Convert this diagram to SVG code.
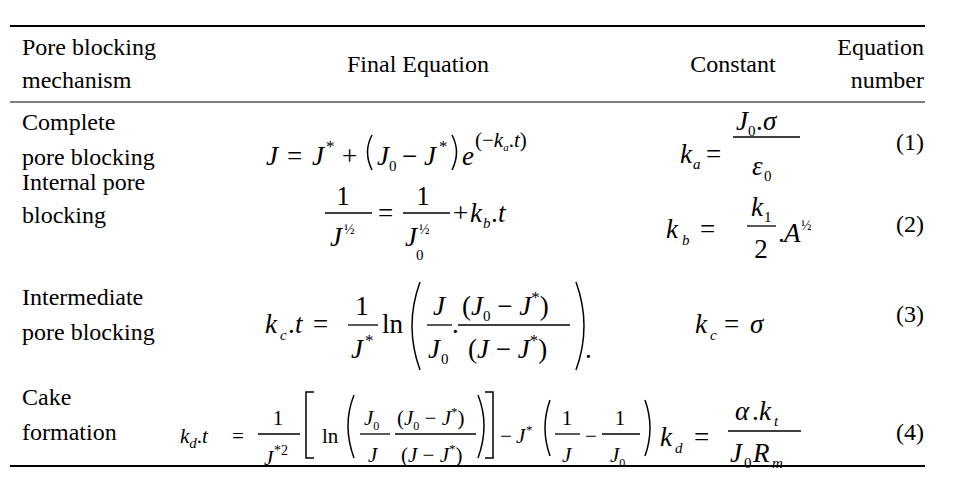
<svg xmlns="http://www.w3.org/2000/svg" width="953" height="495" viewBox="0 0 953 495">
<style>
text{font-family:"Liberation Serif","Times New Roman",serif;fill:#000}
.h{font-size:24px}
.m{font-size:27px;font-style:italic}
.s{font-size:21px;font-style:italic}
.u{font-style:normal}
.sb{font-size:15px}
.r{text-anchor:end}
.c{text-anchor:middle}
.fl{stroke:#000;stroke-width:1.3}
.br{fill:none;stroke:#000;stroke-width:1.5}
</style>
<rect width="953" height="495" fill="#fff"/>
<g id="rules">
<line x1="10" y1="26" x2="925" y2="26" stroke="#000" stroke-width="2"/>
<line x1="10" y1="102" x2="925" y2="102" stroke="#000" stroke-width="1"/>
<line x1="10" y1="466" x2="925" y2="466" stroke="#000" stroke-width="2"/>
</g>
<g id="header" font-family="'Liberation Serif', serif" style="font-family:'Liberation Serif',serif">
<text class="h u" x="22" y="55" style="font-family:'Liberation Serif',serif">Pore blocking</text>
<text class="h u" x="22" y="88" style="font-family:'Liberation Serif',serif">mechanism</text>
<text class="h u c" x="418" y="72" style="font-family:'Liberation Serif',serif">Final Equation</text>
<text class="h u c" x="733" y="72" style="font-family:'Liberation Serif',serif">Constant</text>
<text class="h u r" x="924" y="55" style="font-family:'Liberation Serif',serif">Equation</text>
<text class="h u r" x="924" y="88" style="font-family:'Liberation Serif',serif">number</text>
</g>
<g id="row1">
<text class="h u" x="22" y="130" style="font-family:'Liberation Serif',serif">Complete</text>
<text class="h u" x="22" y="165" style="font-family:'Liberation Serif',serif">pore blocking</text>
<text class="m" x="266" y="165">J</text>
<text class="m u" x="287" y="165">=</text>
<text class="m" x="312" y="165">J</text>
<text class="u" x="326" y="152" font-size="17">*</text>
<text class="m u" x="342" y="165">+</text>
<path class="br" d="M372 135 Q363 152 372 170"/>
<text class="m" x="377" y="165">J</text>
<text class="sb" x="389" y="171">0</text>
<text class="m u" x="402" y="165">−</text>
<text class="m" x="424" y="165">J</text>
<text class="u" x="439" y="152" font-size="17">*</text>
<path class="br" d="M452 135 Q461 152 452 170"/>
<text class="m" x="462" y="165">e</text>
<text class="s" x="475" y="147" font-size="17"><tspan class="u">(−</tspan>k<tspan font-size="11" dy="4">a</tspan><tspan dy="-4" class="u">.</tspan>t<tspan class="u">)</tspan></text>
<text class="m" x="680" y="163">k</text>
<text class="sb" x="693" y="169" font-style="italic">a</text>
<text class="m u" x="706" y="163">=</text>
<line class="fl" x1="733" y1="137" x2="800" y2="137"/>
<text class="m" x="736" y="130">J</text>
<text class="sb" x="748" y="136">0</text>
<text class="m u" x="756" y="130">.</text>
<text class="m" x="763" y="130">σ</text>
<text class="m" x="752" y="175">ε</text>
<text class="sb" x="764" y="181">0</text>
<text class="h u r" x="924" y="150" style="font-family:'Liberation Serif',serif">(1)</text>
</g>
<g id="row2">
<text class="h u" x="22" y="190" style="font-family:'Liberation Serif',serif">Internal pore</text>
<text class="h u" x="22" y="223" style="font-family:'Liberation Serif',serif">blocking</text>
<line class="fl" x1="325" y1="213" x2="372" y2="213"/>
<text class="m u c" x="343" y="205">1</text>
<text class="m" x="330" y="246">J</text>
<text class="u" x="344" y="234" font-size="14">½</text>
<text class="m u" x="378" y="222">=</text>
<line class="fl" x1="403" y1="213" x2="450" y2="213"/>
<text class="m u c" x="423" y="205">1</text>
<text class="m" x="405" y="246">J</text>
<text class="u" x="419" y="234" font-size="14">½</text>
<text class="sb" x="416" y="260">0</text>
<text class="m u" x="453" y="222">+</text>
<text class="m" x="470" y="222">k</text>
<text class="sb" x="483" y="228" font-style="italic">b</text>
<text class="m u" x="491" y="222">.</text>
<text class="m" x="498" y="222">t</text>
<text class="m" x="666" y="238" font-size="31">k</text>
<text class="sb" x="682" y="245" font-size="18" font-style="italic">b</text>
<text class="m u" x="700" y="238" font-size="31">=</text>
<line class="fl" x1="747" y1="226" x2="776" y2="226"/>
<text class="m" x="751" y="216">k</text>
<text class="sb" x="764" y="222">1</text>
<text class="m u c" x="761" y="258" font-size="31">2</text>
<text class="m u" x="778" y="242">.</text>
<text class="m" x="784" y="242">A</text>
<text class="u" x="801" y="230" font-size="14">½</text>
<text class="h u r" x="924" y="232" style="font-family:'Liberation Serif',serif">(2)</text>
</g>
<g id="row3">
<text class="h u" x="22" y="305" style="font-family:'Liberation Serif',serif">Intermediate</text>
<text class="h u" x="22" y="340" style="font-family:'Liberation Serif',serif">pore blocking</text>
<text class="m" x="265" y="333" font-size="31">k</text>
<text class="sb" x="280" y="340" font-size="18" font-style="italic">c</text>
<text class="m u" x="288" y="333" font-size="31">.</text>
<text class="m" x="295" y="333" font-size="31">t</text>
<text class="m u" x="313" y="333" font-size="31">=</text>
<line class="fl" x1="348" y1="325" x2="378" y2="325"/>
<text class="m u c" x="362" y="315">1</text>
<text class="m" x="351" y="358">J</text>
<text class="u" x="365" y="346" font-size="17">*</text>
<text class="m u" x="382" y="333">ln</text>
<path class="br" d="M420 282 Q404 326 420 370"/>
<line class="fl" x1="427" y1="325" x2="452" y2="325"/>
<text class="m" x="433" y="315">J</text>
<text class="m" x="428" y="358">J</text>
<text class="sb" x="441" y="364">0</text>
<text class="m u" x="452" y="333">.</text>
<line class="fl" x1="458" y1="325" x2="570" y2="325"/>
<text class="m" x="462" y="315"><tspan class="u">(</tspan>J<tspan class="sb u" dy="6">0</tspan><tspan dy="-6" class="u"> − </tspan>J<tspan class="u" font-size="17" dy="-12">*</tspan><tspan dy="12" class="u">)</tspan></text>
<text class="m" x="468" y="358"><tspan class="u">(</tspan>J<tspan class="u"> − </tspan>J<tspan class="u" font-size="17" dy="-12">*</tspan><tspan dy="12" class="u">)</tspan></text>
<path class="br" d="M576 282 Q592 326 576 370"/>
<text class="m u" x="585" y="358">.</text>
<text class="m" x="695" y="333" font-size="31">k</text>
<text class="sb" x="710" y="340" font-size="18" font-style="italic">c</text>
<text class="m u" x="724" y="333" font-size="31">=</text>
<text class="m" x="750" y="333" font-size="31">σ</text>
<text class="h u r" x="924" y="322" style="font-family:'Liberation Serif',serif">(3)</text>
</g>
<g id="row4">
<text class="h u" x="22" y="405" style="font-family:'Liberation Serif',serif">Cake</text>
<text class="h u" x="22" y="440" style="font-family:'Liberation Serif',serif">formation</text>
<text class="s" x="180" y="443">k<tspan class="sb" dy="5">d</tspan><tspan dy="-5" class="u">.</tspan>t</text>
<text class="s u" x="232" y="443">=</text>
<line class="fl" x1="258" y1="434" x2="300" y2="434"/>
<text class="s u c" x="278" y="425">1</text>
<text class="s" x="264" y="465">J</text>
<text class="u" x="274" y="455" font-size="14">*2</text>
<path class="br" d="M314 392 H306 V458 H314"/>
<text class="s u" x="322" y="443">ln</text>
<path class="br" d="M354 395 Q342 425 354 458"/>
<line class="fl" x1="360" y1="434" x2="390" y2="434"/>
<text class="s" x="364" y="425">J<tspan class="u" font-size="12" dy="5">0</tspan></text>
<text class="s" x="368" y="462">J</text>
<line class="fl" x1="395" y1="434" x2="476" y2="434"/>
<text class="s" x="397" y="425"><tspan class="u">(</tspan>J<tspan class="u" font-size="12" dy="5">0</tspan><tspan dy="-5" class="u"> − </tspan>J<tspan class="u" font-size="13" dy="-9">*</tspan><tspan dy="9" class="u">)</tspan></text>
<text class="s" x="401" y="462"><tspan class="u">(</tspan>J<tspan class="u"> − </tspan>J<tspan class="u" font-size="13" dy="-9">*</tspan><tspan dy="9" class="u">)</tspan></text>
<path class="br" d="M478 395 Q490 425 478 458"/>
<path class="br" d="M485 392 H493 V458 H485"/>
<text class="s u" x="500" y="443">−</text>
<text class="s" x="516" y="443">J</text>
<text class="u" x="526" y="434" font-size="13">*</text>
<path class="br" d="M550 400 Q540 428 550 456"/>
<line class="fl" x1="555" y1="434" x2="580" y2="434"/>
<text class="s u c" x="567" y="425">1</text>
<text class="s" x="562" y="462">J</text>
<text class="s u" x="585" y="443">−</text>
<line class="fl" x1="602" y1="434" x2="640" y2="434"/>
<text class="s u c" x="620" y="425">1</text>
<text class="s" x="610" y="462">J<tspan class="u" font-size="12" dy="5">0</tspan></text>
<path class="br" d="M645 400 Q655 428 645 456"/>
<text class="m" x="660" y="446" font-size="31">k</text>
<text class="sb" x="675" y="453" font-size="18" font-style="italic">d</text>
<text class="m u" x="694" y="446" font-size="31">=</text>
<line class="fl" x1="728" y1="431" x2="801" y2="431"/>
<text class="m" x="735" y="420" font-size="31">α</text>
<text class="m u" x="752" y="420" font-size="31">.</text>
<text class="m" x="759" y="420" font-size="31">k</text>
<text class="sb" x="774" y="426" font-size="18" font-style="italic">t</text>
<text class="m" x="730" y="462" font-size="31">J</text>
<text class="sb" x="744" y="468" font-size="18">0</text>
<text class="m" x="753" y="462" font-size="31">R</text>
<text class="sb" x="772" y="468" font-size="18" font-style="italic">m</text>
<text class="h u r" x="924" y="440" style="font-family:'Liberation Serif',serif">(4)</text>
</g>
</svg>
